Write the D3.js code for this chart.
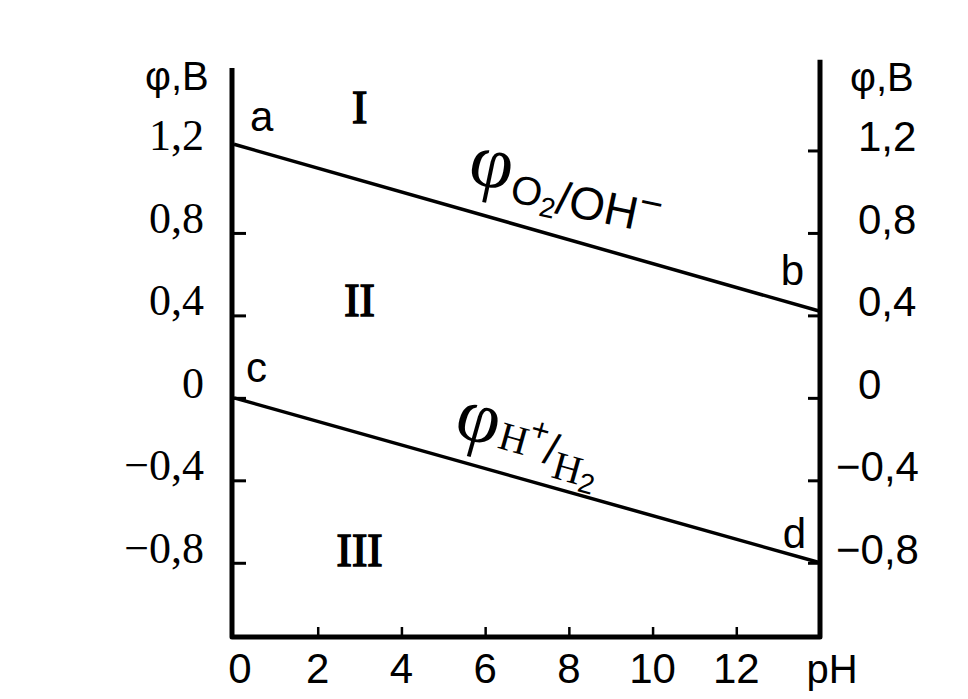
<!DOCTYPE html>
<html><head><meta charset="utf-8">
<script src="https://cdn.jsdelivr.net/npm/d3@7"></script>
<style>
html,body{margin:0;padding:0;background:#fff;}
svg{display:block;}
</style></head>
<body>
<svg id="c" width="968" height="699"></svg>
<script>
// ---- data ----
const pHEnds = [0, 14];
const o2Values = [1.23, 0.42];     // a -> b
const h2Values = [0.0, -0.80];     // c -> d
const yTicks = [1.2, 0.8, 0.4, 0, -0.4, -0.8];
const yTickLabels = ["1,2", "0,8", "0,4", "0", "\u22120,4", "\u22120,8"];
const xTicks = [0, 2, 4, 6, 8, 10, 12];
const xTickLabels = ["0", "2", "4", "6", "8", "10", "12"];
const pointNames = ["a", "b", "c", "d"];
const regionNames = ["I", "II", "III"];
const regionPH = [3, 3, 3];
const regionPhi = [1.41, 0.47, -0.74];

// ---- scales ----
const svg = d3.select("#c");
const x = d3.scaleLinear().domain([0, 14]).range([234, 820]);
const y = d3.scaleLinear().domain([-1.16, 1.60]).range([637, 68]);

const serif = "'Liberation Serif', 'DejaVu Serif', serif";
const sans = "'Liberation Sans', Arial, sans-serif";
const narrow = "'Liberation Sans Narrow', 'Liberation Sans', sans-serif";

// ---- frame ----
const frame = svg.append("g").attr("fill", "none").attr("stroke", "#000").attr("stroke-linejoin", "round");
frame.append("path")
  .attr("d", `M${x(0)-2},${y(1.60)} L${x(0)-2},${y(-1.16)} L${x(14)},${y(-1.16)} L${x(14)},${y(1.64)}`)
  .attr("stroke-width", 5);

// left axis ticks (inward)
const leftAxis = d3.axisRight(y).tickValues(yTicks.filter(v => v !== 1.2)).tickSize(12).tickFormat("");
svg.append("g").attr("transform", `translate(${x(0)},0)`).call(leftAxis)
  .call(g => g.select(".domain").remove())
  .call(g => g.selectAll("line").attr("stroke-width", 3));

// right axis ticks (inward)
const rightAxis = d3.axisLeft(y).tickValues(yTicks).tickSize(12).tickFormat("");
svg.append("g").attr("transform", `translate(${x(14)},0)`).call(rightAxis)
  .call(g => g.select(".domain").remove())
  .call(g => g.selectAll("line").attr("stroke-width", 3));

// bottom axis ticks (inward)
const bottomAxis = d3.axisTop(x).tickValues(xTicks.filter(v => v > 0)).tickSize(10).tickFormat("");
svg.append("g").attr("transform", `translate(0,${y(-1.16)})`).call(bottomAxis)
  .call(g => g.select(".domain").remove())
  .call(g => g.selectAll("line").attr("stroke-width", 2.5));

// ---- tick labels ----
svg.append("g").selectAll("text").data(yTicks).join("text")
  .attr("x", 204).attr("y", d => y(d) - 0)
  .attr("text-anchor", "end")
  .attr("font-family", serif).attr("font-size", 44)
  .text((d, i) => yTickLabels[i]);

svg.append("g").selectAll("text").data(yTicks).join("text")
  .attr("x", d => d < 0 ? 836 : 858).attr("y", d => y(d) + 1)
  .attr("text-anchor", "start")
  .attr("font-family", narrow).attr("font-size", 42)
  .text((d, i) => yTickLabels[i]);

svg.append("g").selectAll("text").data(xTicks).join("text")
  .attr("x", d => x(d) + (d === 0 ? 6 : 0)).attr("y", 683)
  .attr("text-anchor", "middle")
  .attr("font-family", narrow).attr("font-size", 42)
  .text((d, i) => xTickLabels[i]);

svg.append("text").attr("x", 832).attr("y", 683).attr("text-anchor", "middle")
  .attr("font-family", sans).attr("font-size", 40).text("pH");

// axis titles
svg.append("text").attr("x", 145).attr("y", 90).attr("font-family", sans).attr("font-size", 40).text("φ,B");
svg.append("text").attr("x", 850).attr("y", 91).attr("font-family", sans).attr("font-size", 40).text("φ,B");

// ---- lines ----
const line = d3.line().x((d, i) => x(pHEnds[i])).y(d => y(d));
svg.append("path").datum(o2Values).attr("d", line).attr("fill", "none").attr("stroke", "#000").attr("stroke-width", 3.5);
svg.append("path").datum(h2Values).attr("d", line).attr("fill", "none").attr("stroke", "#000").attr("stroke-width", 3.5);

// point letters
const pts = [
  {n: pointNames[0], px: pHEnds[0], v: o2Values[0], dx: 16, dy: -13, a: "start"},
  {n: pointNames[1], px: pHEnds[1], v: o2Values[1], dx: -16, dy: -26, a: "end"},
  {n: pointNames[2], px: pHEnds[0], v: h2Values[0], dx: 12, dy: -16, a: "start"},
  {n: pointNames[3], px: pHEnds[1], v: h2Values[1], dx: -14, dy: -15, a: "end"}
];
svg.append("g").selectAll("text").data(pts).join("text")
  .attr("x", d => x(d.px) + d.dx).attr("y", d => y(d.v) + d.dy)
  .attr("text-anchor", d => d.a)
  .attr("font-family", sans).attr("font-size", 42)
  .text(d => d.n);

// region numerals
svg.append("g").selectAll("text").data(regionNames).join("text")
  .attr("x", (d, i) => x(regionPH[i])).attr("y", (d, i) => y(regionPhi[i]))
  .attr("text-anchor", "middle").attr("dominant-baseline", "central")
  .attr("font-family", serif).attr("font-size", 46)
  .attr("stroke", "#000").attr("stroke-width", 1.6)
  .text(d => d);

// ---- line labels ----
function angleOf(vals) {
  const dx = x(pHEnds[1]) - x(pHEnds[0]);
  const dy = y(vals[1]) - y(vals[0]);
  return Math.atan2(dy, dx) * 180 / Math.PI;
}
const lab1 = svg.append("text")
  .attr("transform", `translate(466,182) rotate(${angleOf(o2Values) - 4})`)
  .attr("font-family", serif);
lab1.append("tspan").attr("font-size", 76).text("φ");
lab1.append("tspan").attr("font-size", 40).attr("font-family", sans).attr("dy", 10).attr("dx", 2).text("O");
lab1.append("tspan").attr("font-size", 28).attr("font-family", sans).attr("dy", 8).text("2");
lab1.append("tspan").attr("font-size", 46).attr("font-family", sans).attr("dy", -6).text("/OH");
lab1.append("tspan").attr("font-size", 40).attr("font-family", sans).attr("dy", -16).text("−");

const lab2 = svg.append("text")
  .attr("transform", `translate(452,435) rotate(${angleOf(h2Values)})`)
  .attr("font-family", serif);
lab2.append("tspan").attr("font-size", 76).text("φ");
lab2.append("tspan").attr("font-size", 40).attr("font-family", serif).attr("dy", 0).attr("dx", 2).text("H");
lab2.append("tspan").attr("font-size", 32).attr("font-family", sans).attr("dy", -18).text("+");
lab2.append("tspan").attr("font-size", 44).attr("font-family", sans).attr("dy", 20).text("/");
lab2.append("tspan").attr("font-size", 40).attr("font-family", serif).attr("dy", 12).text("H");
lab2.append("tspan").attr("font-size", 28).attr("font-family", sans).attr("dy", 6).text("2");
</script>
</body></html>
